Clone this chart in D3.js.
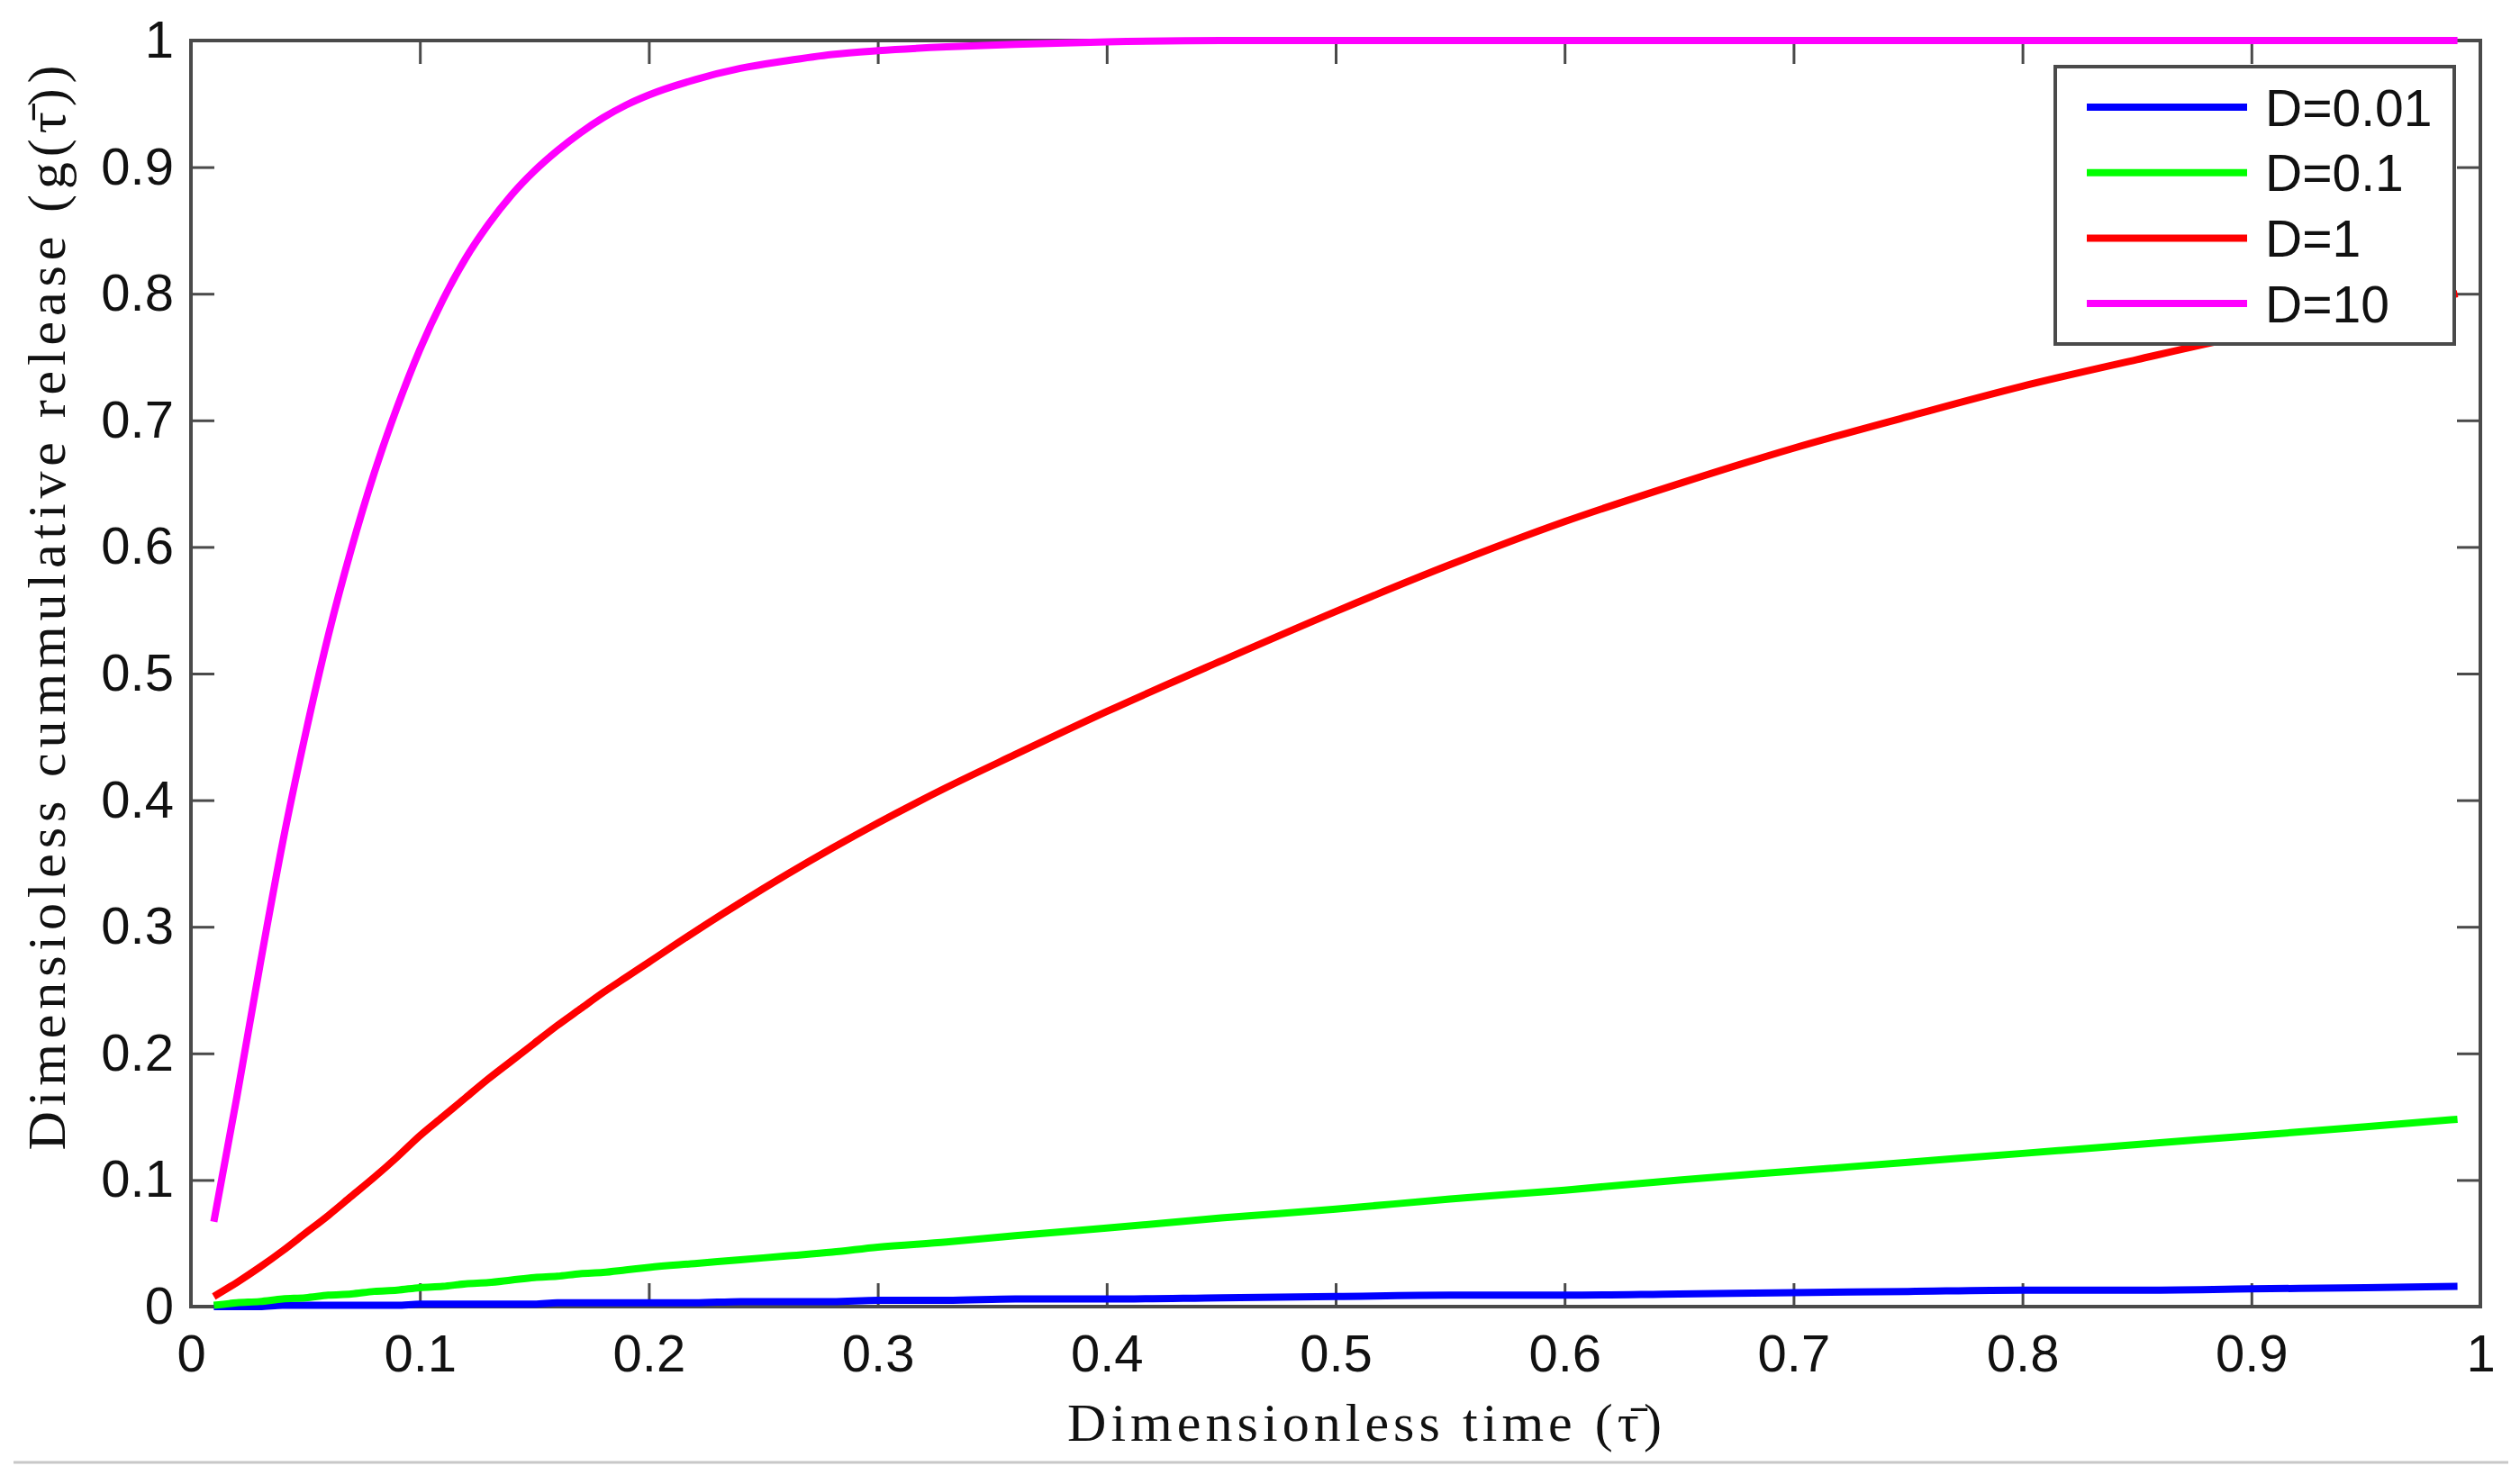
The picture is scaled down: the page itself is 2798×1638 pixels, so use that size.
<!DOCTYPE html>
<html>
<head>
<meta charset="utf-8">
<script src="https://cdn.jsdelivr.net/npm/d3@7"></script>
<style>
  html, body { margin: 0; padding: 0; background: #fff; }
  svg { display: block; }
</style>
</head>
<body>
<script>
// ---- data ----
const tau = [0.01,0.02,0.03,0.04,0.05,0.06,0.07,0.08,0.09,0.10,
             0.11,0.12,0.13,0.14,0.15,0.16,0.17,0.18,0.19,0.20,
             0.22,0.24,0.26,0.28,0.30,0.33,0.36,0.40,0.45,0.50,
             0.55,0.60,0.65,0.70,0.75,0.80,0.85,0.90,0.95,0.99];

const gD001 = [0.000,0.000,0.000,0.001,0.001,0.001,0.001,0.001,0.001,0.002,
               0.002,0.002,0.002,0.002,0.002,0.003,0.003,0.003,0.003,0.003,
               0.003,0.004,0.004,0.004,0.005,0.005,0.006,0.006,0.007,0.008,
               0.009,0.009,0.010,0.011,0.012,0.013,0.013,0.014,0.015,0.016];

const gD01 = [0.001,0.003,0.004,0.006,0.007,0.009,0.010,0.012,0.013,0.015,
              0.016,0.018,0.019,0.021,0.023,0.024,0.026,0.027,0.029,0.031,
              0.034,0.037,0.040,0.043,0.047,0.051,0.056,0.062,0.070,0.077,
              0.085,0.092,0.100,0.107,0.114,0.121,0.128,0.135,0.142,0.148];

const gD1 = [0.008,0.019,0.031,0.044,0.058,0.072,0.087,0.102,0.118,0.135,
             0.150,0.165,0.180,0.194,0.208,0.222,0.235,0.248,0.260,0.272,
             0.296,0.319,0.341,0.362,0.382,0.410,0.436,0.470,0.510,0.549,
             0.586,0.620,0.650,0.678,0.703,0.727,0.748,0.768,0.785,0.800];

const gD10 = [0.067,0.165,0.268,0.366,0.452,0.530,0.598,0.658,0.710,0.756,
              0.795,0.828,0.855,0.878,0.897,0.913,0.927,0.939,0.949,0.957,
              0.969,0.978,0.984,0.989,0.992,0.995,0.997,0.999,1.000,1.000,
              1.000,1.000,1.000,1.000,1.000,1.000,1.000,1.000,1.000,1.000];

const seriesNames = ["D=0.01", "D=0.1", "D=1", "D=10"];
const seriesColors = ["#0000ff", "#00ff00", "#ff0000", "#ff00ff"];
const xTickValues = [0,0.1,0.2,0.3,0.4,0.5,0.6,0.7,0.8,0.9,1];
const xTickLabels = ["0","0.1","0.2","0.3","0.4","0.5","0.6","0.7","0.8","0.9","1"];
const yTickValues = [0,0.1,0.2,0.3,0.4,0.5,0.6,0.7,0.8,0.9,1];
const yTickLabels = ["0","0.1","0.2","0.3","0.4","0.5","0.6","0.7","0.8","0.9","1"];
const xTitle = "Dimensionless time (τ\u0304)";
const yTitle = "Dimensioless cummulative release (g(τ\u0304))";

// ---- layout ----
const W = 2798, H = 1638;
const L = 212, R = 2754, T = 45, B = 1451;
const tickFont = "'Liberation Sans', Arial, sans-serif";
const titleFont = "'Liberation Serif', 'Times New Roman', serif";

const svg = d3.select("body").append("svg")
  .attr("width", W).attr("height", H)
  .attr("viewBox", `0 0 ${W} ${H}`);

svg.append("rect").attr("width", W).attr("height", H).attr("fill", "#fff");

const x = d3.scaleLinear().domain([0, 1]).range([L, R]);
const y = d3.scaleLinear().domain([0, 1]).range([B, T]);

const axisColor = "#4a4a4a";
function styleAxis(g) {
  g.select(".domain").remove();
  g.selectAll(".tick line").attr("stroke", axisColor).attr("stroke-width", 3);
  g.selectAll(".tick text")
    .attr("fill", "#111")
    .style("font-family", tickFont)
    .style("font-size", "58px");
}

const fmtX = (d, i) => xTickLabels[i];
const fmtY = (d, i) => yTickLabels[i];

svg.append("g").attr("transform", `translate(0,${B})`)
  .call(d3.axisBottom(x).tickValues(xTickValues).tickFormat(fmtX)
        .tickSizeInner(-26).tickSizeOuter(0).tickPadding(31))
  .call(styleAxis);
svg.append("g").attr("transform", `translate(0,${T})`)
  .call(d3.axisTop(x).tickValues(xTickValues).tickFormat(() => "")
        .tickSizeInner(-26).tickSizeOuter(0))
  .call(styleAxis);
svg.append("g").attr("transform", `translate(${L},0)`)
  .call(d3.axisLeft(y).tickValues(yTickValues).tickFormat(fmtY)
        .tickSizeInner(-26).tickSizeOuter(0).tickPadding(19))
  .call(styleAxis);
svg.append("g").attr("transform", `translate(${R},0)`)
  .call(d3.axisRight(y).tickValues(yTickValues).tickFormat(() => "")
        .tickSizeInner(-26).tickSizeOuter(0))
  .call(styleAxis);

// box
svg.append("rect")
  .attr("x", x(0)).attr("y", y(1))
  .attr("width", x(1) - x(0)).attr("height", y(0) - y(1))
  .attr("fill", "none").attr("stroke", axisColor).attr("stroke-width", 4);

// ---- lines ----
const seriesData = [gD001, gD01, gD1, gD10];
const line = d3.line().x(d => x(d[0])).y(d => y(d[1])).curve(d3.curveMonotoneX);
seriesData.forEach((vals, i) => {
  svg.append("path")
    .datum(tau.map((t, j) => [t, vals[j]]))
    .attr("d", line)
    .attr("fill", "none")
    .attr("stroke", seriesColors[i])
    .attr("stroke-width", 8)
    .attr("stroke-linejoin", "round");
});

// ---- legend ----
const lg = svg.append("g");
lg.append("rect")
  .attr("x", 2282).attr("y", 74).attr("width", 443).attr("height", 308)
  .attr("fill", "#fff").attr("stroke", axisColor).attr("stroke-width", 4);
seriesNames.forEach((name, i) => {
  const cy = 119 + i * 72.7;
  lg.append("line")
    .attr("x1", 2317).attr("x2", 2495).attr("y1", cy).attr("y2", cy)
    .attr("stroke", seriesColors[i]).attr("stroke-width", 8);
  lg.append("text")
    .attr("x", 2515).attr("y", cy)
    .attr("dy", "0.36em")
    .attr("fill", "#111")
    .style("font-family", tickFont)
    .style("font-size", "57px")
    .text(name);
});

// ---- titles ----
svg.append("text")
  .attr("x", 1515).attr("y", 1600)
  .attr("text-anchor", "middle")
  .attr("textLength", 660).attr("lengthAdjust", "spacing")
  .attr("fill", "#111")
  .style("font-family", titleFont)
  .style("font-size", "60px")
  .text(xTitle);

svg.append("text")
  .attr("transform", "translate(72,675) rotate(-90)")
  .attr("text-anchor", "middle")
  .attr("textLength", 1205).attr("lengthAdjust", "spacing")
  .attr("fill", "#111")
  .style("font-family", titleFont)
  .style("font-size", "60px")
  .text(yTitle);

// bottom rule of the figure frame
svg.append("line")
  .attr("x1", 15).attr("x2", 2785).attr("y1", 1624).attr("y2", 1624)
  .attr("stroke", "#c8c8c8").attr("stroke-width", 3);
</script>
</body>
</html>
